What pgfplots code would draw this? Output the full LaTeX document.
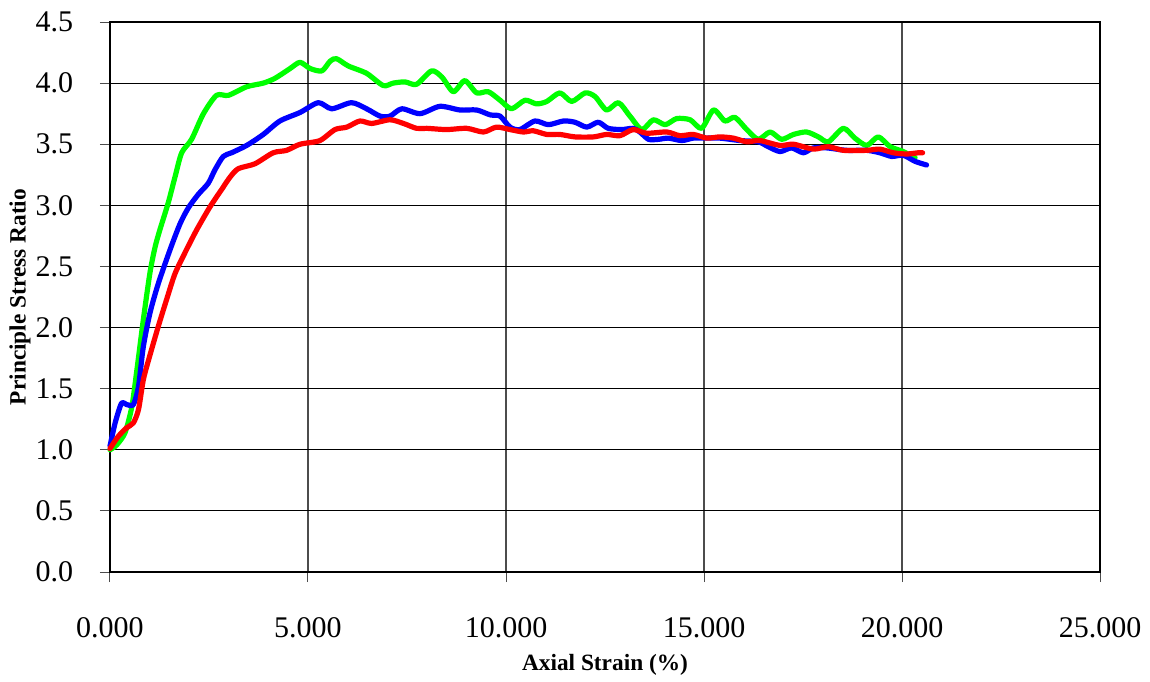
\documentclass[border=0pt]{standalone}
\usepackage{pgfplots}
\pgfplotsset{compat=1.18}
\usepackage{fontspec}
\setmainfont{Liberation Serif}

\definecolor{cgreen}{RGB}{0,255,0}
\definecolor{cblue}{RGB}{0,0,255}
\definecolor{cred}{RGB}{255,0,0}

\begin{document}
\begin{tikzpicture}
\begin{axis}[
  at={(0,0)}, anchor=south west,
  scale only axis,
  width=742.5pt, height=412.5pt,
  xmin=0, xmax=25, ymin=0, ymax=4.5,
  xtick={0,5,...,25},
  ytick={0,0.5,...,4.5},
  tick pos=left,
  /pgf/number format/assume math mode=true,
  xticklabel={\pgfmathprintnumber[fixed,fixed zerofill,precision=3]{\tick}},
  yticklabel={\pgfmathprintnumber[fixed,fixed zerofill,precision=1]{\tick}},
  tick label style={font=\fontsize{22.5pt}{27pt}\selectfont},
  xticklabel style={anchor=center, inner sep=0pt, yshift=-34.5pt},
  yticklabel style={anchor=east, inner sep=0pt, xshift=-20pt},
  tick align=outside,
  major tick length=7.5pt,
  tick style={black!70, line width=0.75pt},
  axis line style={black, line width=1.8pt},
  grid=major,
  x grid style={black!70, line width=0.85pt},
  y grid style={black, line width=0.85pt},
  xlabel={Axial Strain (\%)},
  ylabel={Principle Stress Ratio},
  label style={font=\bfseries\fontsize{17.5pt}{21pt}\selectfont},
  xlabel style={at={(axis description cs:0.5,-0.169)}, anchor=center},
  ylabel style={at={(axis description cs:-0.0909,0.5)}, anchor=center, rotate=0},
  every axis plot/.append style={line width=3.9pt, smooth, tension=0.45, line join=round, line cap=round},
  clip=false,
]
% test 1
\addplot[cgreen] coordinates {
(0,1.00) (0.17,1.04) (0.38,1.14) (0.55,1.35) (0.67,1.63) (0.84,2.06)
(1.01,2.45) (1.14,2.66) (1.26,2.80) (1.47,3.02) (1.64,3.23) (1.81,3.43)
(2.06,3.54) (2.36,3.75) (2.69,3.90) (2.99,3.90) (3.45,3.97) (3.87,4.00)
(4.17,4.04) (4.55,4.12) (4.80,4.17) (5.05,4.12) (5.35,4.10) (5.56,4.18)
(5.72,4.20) (6.02,4.14) (6.48,4.08) (6.90,3.98) (7.15,4.00) (7.45,4.01)
(7.74,3.99) (8.12,4.10) (8.38,4.05) (8.67,3.93) (8.96,4.02) (9.26,3.92)
(9.55,3.93) (9.85,3.86) (10.14,3.79) (10.48,3.86) (10.77,3.83) (11.03,3.85)
(11.36,3.92) (11.66,3.85) (12.00,3.92) (12.25,3.89) (12.54,3.78) (12.84,3.84)
(13.13,3.73) (13.43,3.62) (13.72,3.70) (14.02,3.66) (14.31,3.71) (14.65,3.70)
(14.94,3.63) (15.24,3.78) (15.53,3.69) (15.78,3.72) (16.08,3.62) (16.37,3.54)
(16.67,3.60) (16.96,3.54) (17.26,3.58) (17.59,3.60) (17.89,3.56) (18.14,3.52)
(18.52,3.63) (18.81,3.55) (19.11,3.49) (19.40,3.56) (19.70,3.48) (20.03,3.44)
(20.33,3.39)
};
% test 2
\addplot[cblue] coordinates {
(0,1.03) (0.13,1.22) (0.29,1.38) (0.42,1.37) (0.59,1.37) (0.72,1.52)
(0.84,1.84) (1.01,2.12) (1.22,2.36) (1.52,2.64) (1.77,2.85) (1.98,2.98)
(2.23,3.09) (2.48,3.18) (2.65,3.29) (2.86,3.40) (3.07,3.43) (3.45,3.49)
(3.87,3.58) (4.29,3.69) (4.80,3.76) (5.26,3.84) (5.60,3.79) (6.10,3.84)
(6.48,3.79) (6.82,3.73) (7.07,3.73) (7.37,3.79) (7.83,3.75) (8.33,3.81)
(8.84,3.78) (9.26,3.78) (9.60,3.74) (9.85,3.73) (10.10,3.64) (10.35,3.62)
(10.73,3.69) (11.07,3.66) (11.45,3.69) (11.74,3.68) (12.04,3.64) (12.33,3.68)
(12.58,3.63) (12.92,3.62) (13.21,3.63) (13.38,3.60) (13.60,3.54) (13.85,3.54)
(14.10,3.55) (14.44,3.53) (14.73,3.55) (15.07,3.55) (15.40,3.55) (15.91,3.53)
(16.37,3.52) (16.62,3.48) (16.92,3.44) (17.21,3.47) (17.51,3.43) (17.76,3.47)
(18.10,3.47) (18.60,3.45) (19.11,3.45) (19.44,3.43) (19.74,3.40) (20.03,3.41)
(20.33,3.36) (20.62,3.33)
};
% test 3
\addplot[cred] coordinates {
(0,1.01) (0.21,1.11) (0.42,1.18) (0.59,1.22) (0.72,1.33) (0.84,1.57)
(0.97,1.73) (1.22,2.01) (1.43,2.23) (1.64,2.44) (1.89,2.61) (2.19,2.80)
(2.53,2.99) (2.82,3.13) (3.03,3.23) (3.24,3.30) (3.66,3.34) (4.12,3.43)
(4.46,3.45) (4.80,3.50) (5.30,3.53) (5.68,3.62) (5.98,3.64) (6.31,3.69)
(6.61,3.67) (7.07,3.70) (7.41,3.67) (7.74,3.63) (8.00,3.63) (8.50,3.62)
(9.01,3.63) (9.43,3.60) (9.76,3.64) (10.10,3.62) (10.44,3.60) (10.69,3.61)
(11.03,3.58) (11.36,3.58) (11.74,3.56) (12.21,3.56) (12.54,3.58) (12.88,3.57)
(13.21,3.62) (13.55,3.59) (14.06,3.60) (14.39,3.57) (14.73,3.58) (15.07,3.55)
(15.40,3.56) (15.74,3.55) (16.08,3.52) (16.41,3.53) (16.92,3.49) (17.26,3.50)
(17.76,3.46) (18.14,3.48) (18.52,3.45) (19.11,3.45) (19.44,3.46) (19.78,3.43)
(20.12,3.42) (20.41,3.43) (20.52,3.43)
};
\end{axis}
\pgfresetboundingbox
\path (-82.5pt,-82.5pt) rectangle (780pt,429pt);
\end{tikzpicture}
\end{document}
